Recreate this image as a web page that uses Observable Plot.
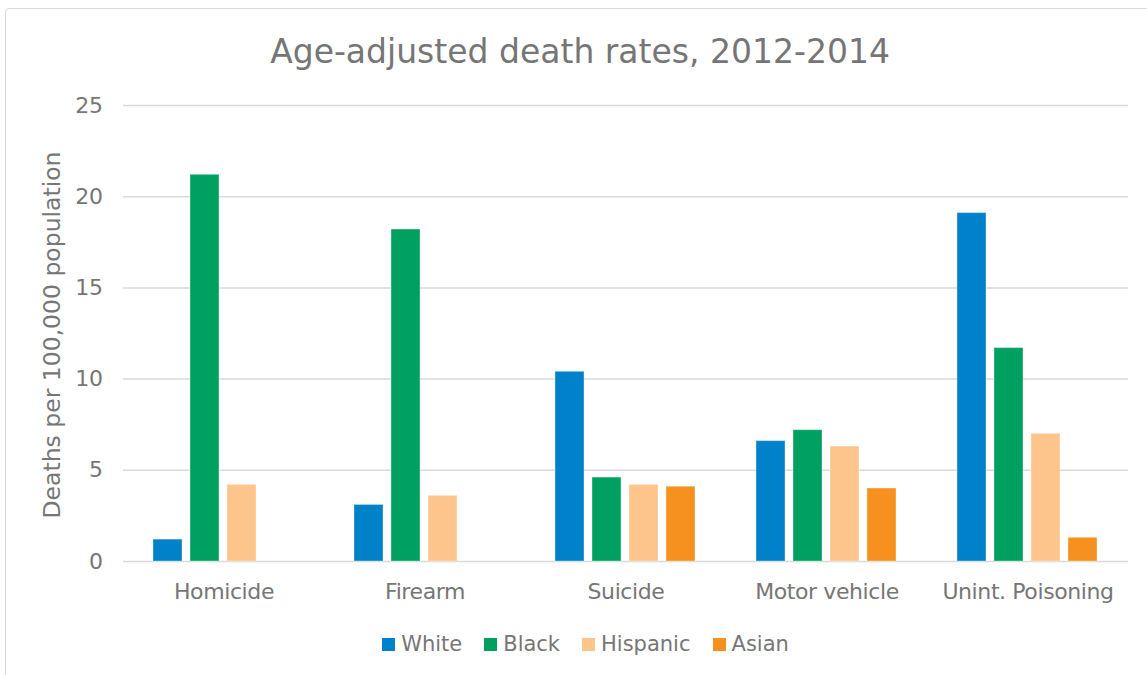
<!DOCTYPE html>
<html>
<head>
<meta charset="utf-8">
<script src="https://cdn.jsdelivr.net/npm/d3@7"></script>
<script src="https://cdn.jsdelivr.net/npm/@observablehq/plot@0.6"></script>
<style>
  html, body { margin: 0; padding: 0; background: #fff; }
  body { width: 1147px; height: 675px; position: relative; overflow: hidden;
         font-family: "DejaVu Sans", sans-serif; color: #767676; }
  #frame { position: absolute; left: 5px; top: 8px; width: 1200px; height: 700px;
           border: 1px solid #d9d9d9; border-radius: 4px; box-sizing: border-box; }
  #title { position: absolute; left: 0; width: 1160px; top: 32px; text-align: center;
           font-size: 33px; color: #767676; white-space: nowrap; line-height: normal; }
  #ylabel { position: absolute; left: 52px; top: 335px; transform: translate(-50%, -50%) rotate(-90deg);
            font-size: 23.5px; white-space: nowrap; color: #767676; }
  #chart { position: absolute; left: 0; top: 0; }
  #legend { position: absolute; top: 632px; left: 0; width: 1147px; display: flex; justify-content: center;
            gap: 22px; font-size: 21px; color: #767676; padding-left: 24px; box-sizing: border-box; }
  .item { display: flex; align-items: center; gap: 6px; }
  .sw { width: 13px; height: 13px; display: inline-block; }
</style>
</head>
<body>
<div id="frame"></div>
<div id="chart"></div>
<div id="title"></div>
<div id="ylabel"></div>
<div id="legend"></div>
<script>
const titleText = "Age-adjusted death rates, 2012-2014";
const yLabel = "Deaths per 100,000 population";
const categories = ["Homicide", "Firearm", "Suicide", "Motor vehicle", "Unint. Poisoning"];
const races = ["White", "Black", "Hispanic", "Asian"];
const white = [1.2, 3.1, 10.4, 6.6, 19.1];
const black = [21.2, 18.2, 4.6, 7.2, 11.7];
const hispanic = [4.2, 3.6, 4.2, 6.3, 7.0];
const asian = [null, null, 4.1, 4.0, 1.3];
const colors = ["#0081C9", "#00A160", "#FDC58C", "#F69120"];
const yTicks = [0, 5, 10, 15, 20, 25];

const series = [white, black, hispanic, asian];
const data = [];
categories.forEach((c, i) => {
  races.forEach((r, j) => {
    const v = series[j][i];
    if (v != null) data.push({category: c, race: r, value: v});
  });
});

const fontFamily = '"DejaVu Sans", sans-serif';

const chart = Plot.plot({
  width: 1147,
  height: 620,
  marginTop: 105,
  marginBottom: 59,
  marginLeft: 123,
  marginRight: 19,
  style: {fontSize: "22px", fontFamily, color: "#767676", background: "transparent", letterSpacing: "-0.4px"},
  fx: {domain: categories, padding: 0, label: null},
  x: {domain: races, paddingInner: 0.216, paddingOuter: 0.824, axis: null},
  y: {domain: [0, 25], label: null},
  color: {domain: races, range: colors},
  marks: [
    Plot.ruleY(yTicks, {stroke: "#d9d9d9", strokeWidth: 1.5}),
    Plot.barY(data, {fx: "category", x: "race", y: "value", fill: "race", stroke: "#ffffff", strokeOpacity: 0.35, strokeWidth: 1}),
    Plot.axisY({ticks: yTicks, tickSize: 0, tickPadding: 21, label: null, fill: "#767676"}),
    Plot.axisFx({anchor: "bottom", tickSize: 0, tickPadding: 22, label: null, fill: "#767676"})
  ]
});
document.getElementById("chart").appendChild(chart);

document.getElementById("title").textContent = titleText;
document.getElementById("ylabel").textContent = yLabel;

const legend = document.getElementById("legend");
races.forEach((r, i) => {
  const item = document.createElement("div");
  item.className = "item";
  const sw = document.createElement("span");
  sw.className = "sw";
  sw.style.background = colors[i];
  const t = document.createElement("span");
  t.textContent = r;
  item.appendChild(sw);
  item.appendChild(t);
  legend.appendChild(item);
});
</script>
</body>
</html>
